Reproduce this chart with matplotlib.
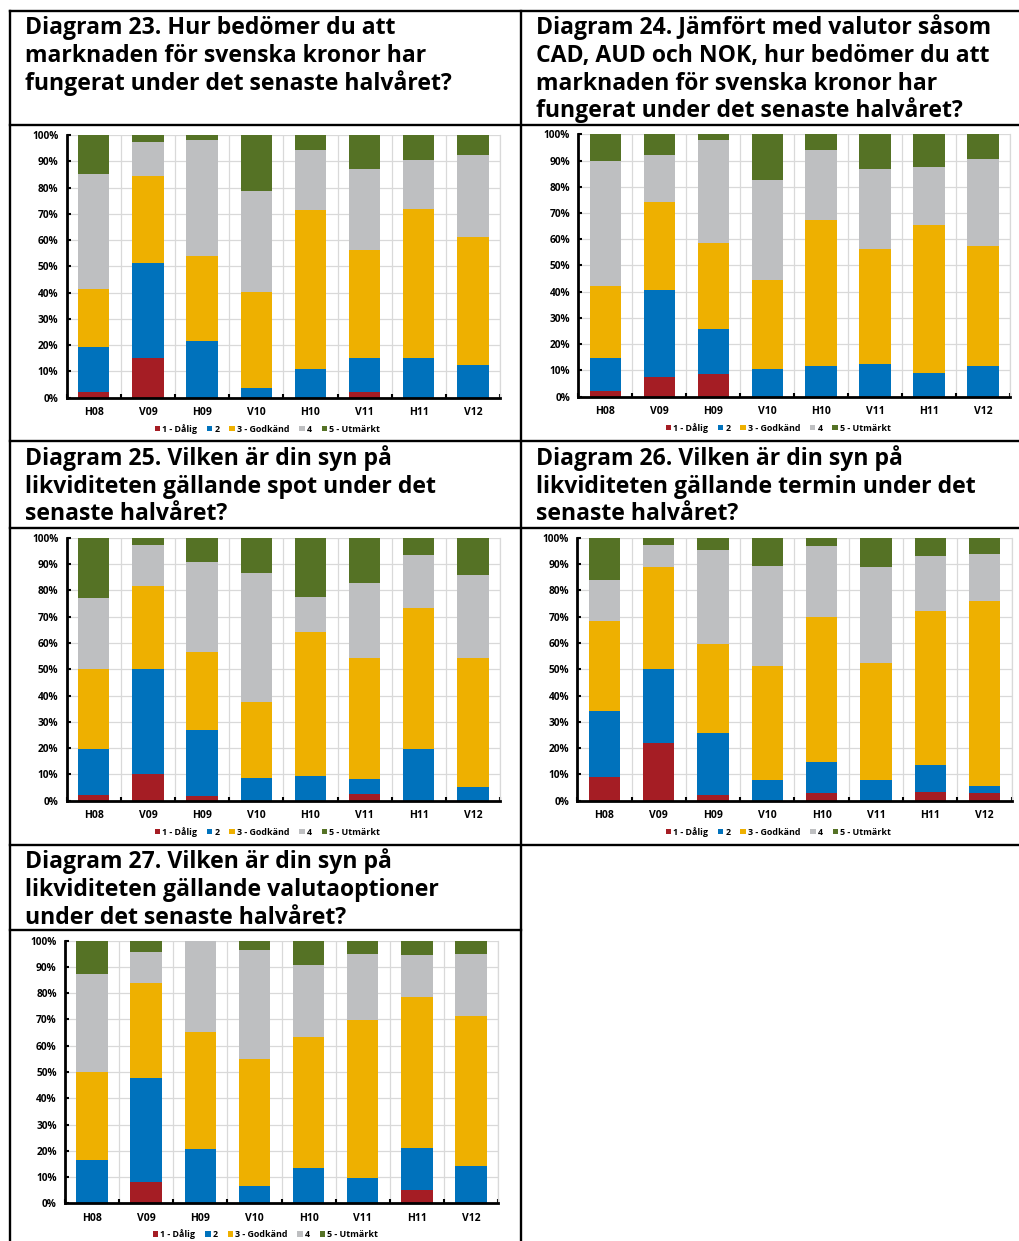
import matplotlib.pyplot as plt
import numpy as np
from matplotlib.lines import Line2D
from matplotlib.ticker import PercentFormatter, MultipleLocator

plt.rcParams['font.family'] = ['Open Sans', 'DejaVu Sans']

# kategorier (halvår)
labels = ['H08', 'V09', 'H09', 'V10', 'H10', 'V11', 'H11', 'V12']
series = ['1 - Dålig', '2', '3 - Godkänd', '4', '5 - Utmärkt']
colors = ['#A51D24', '#0072BC', '#EEB000', '#BEBFC1', '#557225']

# andelar i procent, en rad per svarsalternativ (1..5)
d23 = [[2.0, 15.2, 0, 0, 0, 2.3, 0, 0],
       [17.2, 35.9, 21.4, 3.8, 11.0, 12.8, 15.2, 12.4],
       [22.0, 33.4, 32.7, 36.4, 60.3, 41.1, 56.5, 48.9],
       [44.0, 13.0, 43.9, 38.5, 23.0, 31.0, 18.9, 31.1],
       [14.8, 2.5, 2.0, 21.3, 5.7, 12.8, 9.4, 7.6]]
d24 = [[2.3, 7.5, 8.5, 0, 0, 0, 0, 0],
       [12.4, 33.3, 17.3, 10.4, 11.6, 12.6, 9.1, 11.8],
       [27.6, 33.4, 32.6, 34.2, 55.7, 43.6, 56.3, 45.6],
       [47.4, 17.9, 39.3, 38.1, 26.6, 30.7, 22.0, 33.3],
       [10.3, 7.9, 2.3, 17.3, 6.1, 13.1, 12.6, 9.3]]
d25 = [[2.0, 10.3, 1.9, 0, 0, 2.7, 0, 0],
       [17.7, 39.6, 25.0, 8.5, 9.3, 5.4, 19.7, 5.2],
       [30.2, 31.6, 29.7, 29.1, 55.0, 46.0, 53.4, 48.9],
       [27.3, 15.8, 34.3, 48.9, 13.0, 28.6, 20.2, 31.6],
       [22.8, 2.7, 9.1, 13.5, 22.7, 17.3, 6.7, 14.3]]
d26 = [[9.0, 21.8, 2.0, 0, 2.9, 0, 3.3, 2.8],
       [25.1, 28.1, 23.8, 7.7, 11.9, 8.0, 10.2, 2.9],
       [34.4, 38.8, 33.6, 43.4, 54.9, 44.5, 58.7, 70.1],
       [15.5, 8.5, 35.9, 38.1, 27.3, 36.3, 20.9, 18.1],
       [16.0, 2.8, 4.7, 10.8, 3.0, 11.2, 6.9, 6.1]]
d27 = [[0, 8.0, 0, 0, 0, 0, 5.2, 0],
       [16.5, 39.8, 20.7, 6.6, 13.5, 9.8, 15.7, 14.1],
       [33.4, 36.0, 44.7, 48.5, 50.0, 60.0, 57.8, 57.2],
       [37.4, 12.0, 34.6, 41.2, 27.2, 25.0, 15.8, 23.8],
       [12.7, 4.2, 0, 3.7, 9.3, 5.2, 5.5, 4.9]]

titles = {
    23: ['Diagram 23. Hur bedömer du att', 'marknaden för svenska kronor har',
         'fungerat under det senaste halvåret?'],
    24: ['Diagram 24. Jämfört med valutor såsom', 'CAD, AUD och NOK, hur bedömer du att',
         'marknaden för svenska kronor har', 'fungerat under det senaste halvåret?'],
    25: ['Diagram 25. Vilken är din syn på', 'likviditeten gällande spot under det',
         'senaste halvåret?'],
    26: ['Diagram 26. Vilken är din syn på', 'likviditeten gällande termin under det',
         'senaste halvåret?'],
    27: ['Diagram 27. Vilken är din syn på', 'likviditeten gällande valutaoptioner',
         'under det senaste halvåret?'],
}

W, H = 1019, 1241
fig = plt.figure(figsize=(W / 100, H / 100), dpi=100)


def px_line(x0, y0, x1, y1):
    fig.add_artist(Line2D([x0 / W, x1 / W], [1 - y0 / H, 1 - y1 / H],
                          color='black', lw=1.7, transform=fig.transFigure))


# tabellens ramar
for y in [11, 125, 441, 528, 845]:
    px_line(10, y, 1019, y)
px_line(10, 930, 521, 930)
px_line(10, 11, 10, 1241)
px_line(521, 11, 521, 1241)


def draw_chart(data, box, title, title_xy):
    x0, y0, x1, y1 = box
    ax = fig.add_axes([x0 / W, 1 - y1 / H, (x1 - x0) / W, (y1 - y0) / H])
    x = np.arange(len(labels))
    bottom = np.zeros(len(labels))
    for vals, name, c in zip(data, series, colors):
        vals = np.array(vals) / 100
        ax.bar(x, vals, 0.58, bottom=bottom, color=c, label=name, zorder=3)
        bottom += vals
    ax.set_xlim(-0.5, len(labels) - 0.5)
    ax.set_ylim(0, 1)
    ax.yaxis.set_major_locator(MultipleLocator(0.1))
    ax.yaxis.set_major_formatter(PercentFormatter(1.0, decimals=0))
    ax.set_xticks(x)
    ax.set_xticklabels(labels)
    ax.set_xticks(np.arange(-0.5, len(labels)), minor=True)
    ax.tick_params(axis='x', which='major', length=0, pad=7, labelsize=7.5)
    ax.tick_params(axis='x', which='minor', direction='in', length=3, width=1.5)
    ax.tick_params(axis='y', direction='in', length=3, width=1.5, pad=6, labelsize=7.3)
    for lab in ax.get_xticklabels() + ax.get_yticklabels():
        lab.set_fontweight('bold')
    ax.grid(axis='y', color='#D9D9D9', lw=0.9, zorder=0)
    ax.grid(axis='x', which='minor', color='#D9D9D9', lw=0.9, zorder=0)
    for s in ['left', 'bottom']:
        ax.spines[s].set_linewidth(2)
        ax.spines[s].set_zorder(5)
    ax.spines['top'].set_visible(False)
    ax.spines['right'].set_color('#D9D9D9')
    ax.spines['right'].set_linewidth(0.9)
    ax.legend(loc='center', bbox_to_anchor=(0.463, -0.118), ncol=5, frameon=False,
              prop={'size': 6.4, 'weight': 'bold'}, handlelength=0.6, handleheight=0.6,
              handletextpad=0.25, columnspacing=1.1)
    tx, ty = title_xy
    for i, line in enumerate(title):
        fig.text(tx / W, 1 - (ty + i * 27.7) / H, line, fontsize=16.6,
                 fontweight='bold', va='baseline', ha='left')
    return ax


draw_chart(d23, (66.7, 135, 500, 397.7), titles[23], (25, 34.3))
draw_chart(d24, (578.3, 134.3, 1010, 396.7), titles[24], (536, 34.3))
draw_chart(d25, (66.7, 537.7, 500, 800.7), titles[25], (25, 465))
draw_chart(d26, (577.3, 537.7, 1011.7, 800.7), titles[26], (536, 465))
draw_chart(d27, (65, 940.7, 498, 1203.3), titles[27], (25, 868.3))

plt.savefig('out.png', dpi=100)
